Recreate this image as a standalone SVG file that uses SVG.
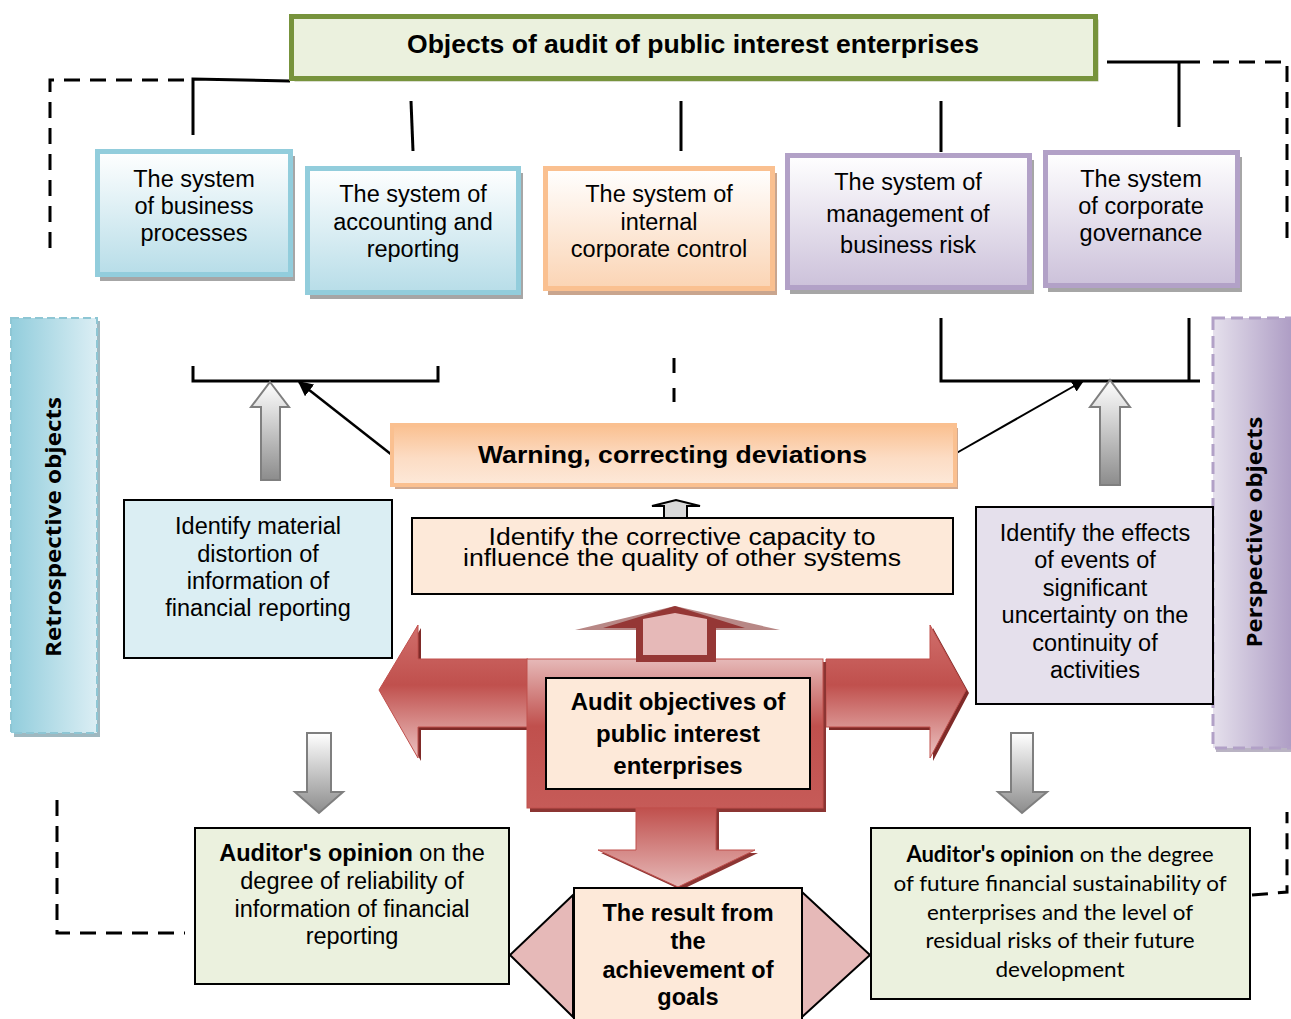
<svg xmlns="http://www.w3.org/2000/svg" width="1291" height="1019" viewBox="0 0 1291 1019">
<defs>
<linearGradient id="gBlue" x1="0" y1="0" x2="0" y2="1"><stop offset="0" stop-color="#ffffff"/><stop offset="1" stop-color="#b7dde8"/></linearGradient>
<linearGradient id="gOrange" x1="0" y1="0" x2="0" y2="1"><stop offset="0" stop-color="#ffffff"/><stop offset="1" stop-color="#fbd4b4"/></linearGradient>
<linearGradient id="gPurple" x1="0" y1="0" x2="0" y2="1"><stop offset="0" stop-color="#ffffff"/><stop offset="1" stop-color="#ccc1da"/></linearGradient>
<linearGradient id="gWarn" x1="0" y1="0" x2="0" y2="1"><stop offset="0" stop-color="#fac090"/><stop offset="0.55" stop-color="#fcdcc4"/><stop offset="1" stop-color="#fde9d9"/></linearGradient>
<linearGradient id="gRetro" x1="0" y1="0" x2="1" y2="0"><stop offset="0" stop-color="#92cddc"/><stop offset="1" stop-color="#dbeef4"/></linearGradient>
<linearGradient id="gPersp" x1="0" y1="0" x2="1" y2="0"><stop offset="0" stop-color="#e5e0ec"/><stop offset="1" stop-color="#ad9cc4"/></linearGradient>
<linearGradient id="gGrayUp" x1="0" y1="0" x2="0" y2="1"><stop offset="0" stop-color="#ffffff"/><stop offset="1" stop-color="#8c8c8c"/></linearGradient>
<linearGradient id="gSide" x1="0" y1="0" x2="0" y2="1"><stop offset="0" stop-color="#d06e6b"/><stop offset="0.45" stop-color="#c0504d"/><stop offset="1" stop-color="#ecc3c2"/></linearGradient>
<linearGradient id="gSquare" x1="0" y1="0" x2="0" y2="1"><stop offset="0" stop-color="#e6b9b8"/><stop offset="0.45" stop-color="#c0504d"/><stop offset="1" stop-color="#c65b58"/></linearGradient>
<linearGradient id="gDown" x1="0" y1="0" x2="0" y2="1"><stop offset="0" stop-color="#c0504d"/><stop offset="1" stop-color="#e6b9b8"/></linearGradient>
<marker id="ah" viewBox="0 0 10 10" refX="9" refY="5" markerWidth="6" markerHeight="6" orient="auto" markerUnits="strokeWidth"><path d="M0,0 L10,5 L0,10 z" fill="#000"/></marker>
<style>
.t{font-family:"Liberation Sans",Arial,sans-serif;font-size:23.5px;fill:#000;text-anchor:middle}
.b{font-weight:bold}
.c{font-family:Lato,"Open Sans",sans-serif;font-size:22px;fill:#000;text-anchor:middle}
.v{font-family:"Open Sans","Liberation Sans",sans-serif;font-size:22px;font-weight:bold;fill:#000;text-anchor:middle}
.sh{fill:#a6a6a6}
.ln{stroke:#000;stroke-width:3;fill:none}
.ds{stroke:#000;stroke-width:3;fill:none;stroke-dasharray:16 10}
.bx{stroke:#000;stroke-width:2}
.gar{fill:url(#gGrayUp);stroke:#7f7f7f;stroke-width:2}
</style>
</defs>
<rect width="1291" height="1019" fill="#ffffff"/>

<g id="connectors">
<path class="ds" d="M50,248 V80 H186"/>
<path class="ln" d="M193,135 V79 L290,81"/>
<path class="ln" d="M411,101 L413,151"/>
<path class="ln" d="M681,101 V151"/>
<path class="ln" d="M941,101 V152"/>
<path class="ln" d="M1107,62 H1200 M1179,62 V127"/>
<path class="ds" d="M1213,62 H1287 V243"/>
<path class="ln" d="M193,366 V381 H438 V366"/>
<path class="ln" d="M941,318 V381 H1200 M1189,318 V381"/>
<path class="ds" d="M674,358 V402" style="stroke-dasharray:15 15"/>
<path class="ln" d="M392,455 L299,382" marker-end="url(#ah)" style="stroke-width:2.5"/>
<path class="ln" d="M953,455 L1083,381" marker-end="url(#ah)" style="stroke-width:2"/>
<path class="ds" d="M57,800 V933 H185"/>
<path class="ds" d="M1252,895 L1287,892 V812"/>
<g id="gray-arrows">
<polygon class="gar" points="270,382 289,407 280,407 280,480 261,480 261,407 251,407"/>
<polygon class="gar" points="1110,380 1130,407 1120,407 1120,485 1100,485 1100,407 1090,407"/>
<polygon class="gar" points="307,733 331,733 331,792 343,792 319,813 295,792 307,792"/>
<polygon class="gar" points="1011,733 1033,733 1033,792 1047,792 1022,813 998,792 1011,792"/>
<polygon points="664,518 664,506 652,506 676,500 700,506 687,506 687,518" fill="#d9d9d9" stroke="#000" stroke-width="2"/>
</g>
</g>

<g id="top-objects">
<rect x="294.5" y="19.5" width="804" height="62" fill="#b5bea0"/>
<rect x="291.5" y="16.5" width="804" height="62" fill="#ebf1de" stroke="#77933c" stroke-width="5"/>
<text class="t b" x="693" y="53" style="font-size:25px" textLength="572" lengthAdjust="spacingAndGlyphs">Objects of audit of public interest enterprises</text>
</g>

<g id="box-business">
<rect class="sh" x="100" y="156" width="195" height="125"/>
<rect x="97.5" y="151.5" width="193" height="123" fill="url(#gBlue)" stroke="#92cddc" stroke-width="5"/>
<text class="t" x="194" y="187">The system</text>
<text class="t" x="194" y="214">of business</text>
<text class="t" x="194" y="241">processes</text>
</g>
<g id="box-accounting">
<rect class="sh" x="310" y="173" width="213" height="126"/>
<rect x="307.5" y="168.5" width="211" height="124" fill="url(#gBlue)" stroke="#92cddc" stroke-width="5"/>
<text class="t" x="413" y="202">The system of</text>
<text class="t" x="413" y="229.5">accounting and</text>
<text class="t" x="413" y="257">reporting</text>
</g>
<g id="box-control">
<rect x="548" y="173" width="229" height="122" fill="#c9a58e"/>
<rect x="545.5" y="168.5" width="227" height="120" fill="url(#gOrange)" stroke="#fac090" stroke-width="5"/>
<text class="t" x="659" y="202">The system of</text>
<text class="t" x="659" y="230">internal</text>
<text class="t" x="659" y="257">corporate control</text>
</g>
<g id="box-risk">
<rect class="sh" x="790" y="160" width="244" height="134"/>
<rect x="787.5" y="155.5" width="242" height="132" fill="url(#gPurple)" stroke="#b2a1c7" stroke-width="5"/>
<text class="t" x="908" y="190">The system of</text>
<text class="t" x="908" y="222">management of</text>
<text class="t" x="908" y="253">business risk</text>
</g>
<g id="box-governance">
<rect class="sh" x="1048" y="157" width="194" height="135"/>
<rect x="1045.5" y="152.5" width="192" height="133" fill="url(#gPurple)" stroke="#b2a1c7" stroke-width="5"/>
<text class="t" x="1141" y="187">The system</text>
<text class="t" x="1141" y="214">of corporate</text>
<text class="t" x="1141" y="241">governance</text>
</g>

<g id="retrospective">
<rect x="14" y="321" width="86" height="416" fill="#9fb8c0"/>
<rect x="11" y="318" width="86" height="415" fill="url(#gRetro)" stroke="#8ec6d4" stroke-width="2" stroke-dasharray="8 4"/>
<text class="v" transform="translate(61,527) rotate(-90)" textLength="260" lengthAdjust="spacingAndGlyphs">Retrospective objects</text>
</g>
<g id="perspective">
<rect x="1216" y="321" width="80" height="431" fill="#b9b3c3"/>
<rect x="1213" y="318" width="80" height="430" fill="url(#gPersp)" stroke="#b2a1c7" stroke-width="3" stroke-dasharray="12 6"/>
<text class="v" transform="translate(1262,532) rotate(-90)" textLength="231" lengthAdjust="spacingAndGlyphs">Perspective objects</text>
</g>

<g id="warning">
<rect x="395" y="428" width="563" height="61" fill="#d2aa90"/>
<rect x="392" y="425" width="563" height="60" fill="url(#gWarn)" stroke="#fac090" stroke-width="4"/>
<text class="t b" x="672.5" y="463" style="font-size:24px" textLength="389" lengthAdjust="spacingAndGlyphs">Warning, correcting deviations</text>
</g>

<g id="identify-material">
<rect class="bx" x="124" y="500" width="268" height="158" fill="#dbeef3"/>
<text class="t" x="258" y="534">Identify material</text>
<text class="t" x="258" y="562">distortion of</text>
<text class="t" x="258" y="589">information of</text>
<text class="t" x="258" y="616">financial reporting</text>
</g>
<g id="identify-corrective">
<rect class="bx" x="412" y="518" width="541" height="76" fill="#fde9d9"/>
<text class="t" x="682" y="545" style="font-size:23px" textLength="387" lengthAdjust="spacingAndGlyphs">Identify the corrective capacity to</text>
<text class="t" x="682" y="566" style="font-size:23px" textLength="438" lengthAdjust="spacingAndGlyphs">influence the quality of other systems</text>
</g>
<g id="identify-effects">
<rect class="bx" x="976" y="507" width="237" height="197" fill="#e5e0ec"/>
<text class="t" x="1095" y="541">Identify the effects</text>
<text class="t" x="1095" y="568">of events of</text>
<text class="t" x="1095" y="596">significant</text>
<text class="t" x="1095" y="623">uncertainty on the</text>
<text class="t" x="1095" y="651">continuity of</text>
<text class="t" x="1095" y="678">activities</text>
</g>

<g id="audit-objectives">
<polygon points="382,693 421,628 421,662 531,662 531,730 421,730 421,761" fill="#7f2a28"/>
<polygon points="969,693 933,628 933,662 829,662 829,730 933,730 933,761" fill="#7f2a28"/>
<polygon points="379,690 418,625 418,659 528,659 528,727 418,727 418,758" fill="url(#gSide)" stroke="#c0504d" stroke-width="1"/>
<polygon points="966,690 930,625 930,659 826,659 826,727 930,727 930,758" fill="url(#gSide)" stroke="#c0504d" stroke-width="1"/>
<rect x="530" y="662" width="296" height="150" fill="#8c3533"/>
<rect x="527" y="659" width="296" height="149" fill="url(#gSquare)" stroke="#c0504d" stroke-width="1"/>
<polygon points="639,811 719,811 719,853 758,853 681,890 601,853 639,853" fill="#8c3533"/>
<polygon points="636,808 716,808 716,850 755,850 678,887 598,850 636,850" fill="url(#gDown)" stroke="#c0504d" stroke-width="1"/>
<polygon points="575,630 675,606 780,630" fill="#b88886"/>
<polygon points="636,662 636,628 603,628 675,606 745,628 716,628 716,662" fill="#953735"/>
<polygon points="643,655 643,619 675,613 707,619 707,655" fill="#e6b9b8"/>
<rect class="bx" x="546" y="678" width="264" height="111" fill="#fde9d9"/>
<text class="t b" x="678" y="710" style="font-size:24px">Audit objectives of</text>
<text class="t b" x="678" y="742" style="font-size:24px">public interest</text>
<text class="t b" x="678" y="774" style="font-size:24px">enterprises</text>
</g>

<g id="result">
<polygon class="bx" points="573,895 510,955 573,1017" fill="#e6b9b8"/>
<polygon class="bx" points="802,892 870,955 802,1017" fill="#e6b9b8"/>
<rect class="bx" x="574" y="888" width="228" height="140" fill="#fde9d9"/>
<text class="t b" x="688" y="921" style="font-size:23.5px">The result from</text>
<text class="t b" x="688" y="949" style="font-size:23.5px">the</text>
<text class="t b" x="688" y="978" style="font-size:23.5px">achievement of</text>
<text class="t b" x="688" y="1005" style="font-size:23.5px">goals</text>
</g>

<g id="opinion-reliability">
<rect class="bx" x="195" y="828" width="314" height="156" fill="#ebf1de"/>
<text class="t" x="352" y="861"><tspan class="b">Auditor's opinion</tspan> on the</text>
<text class="t" x="352" y="889">degree of reliability of</text>
<text class="t" x="352" y="917">information of financial</text>
<text class="t" x="352" y="944">reporting</text>
</g>
<g id="opinion-sustainability">
<rect class="bx" x="871" y="828" width="379" height="171" fill="#ebf1de"/>
<text class="c" x="1060" y="862"><tspan font-weight="bold">Auditor's opinion</tspan> on the degree</text>
<text class="c" x="1060" y="891" textLength="333" lengthAdjust="spacingAndGlyphs">of future financial sustainability of</text>
<text class="c" x="1060" y="920" textLength="266" lengthAdjust="spacingAndGlyphs">enterprises and the level of</text>
<text class="c" x="1060" y="948" textLength="269" lengthAdjust="spacingAndGlyphs">residual risks of their future</text>
<text class="c" x="1060" y="977" textLength="129" lengthAdjust="spacingAndGlyphs">development</text>
</g>
</svg>
